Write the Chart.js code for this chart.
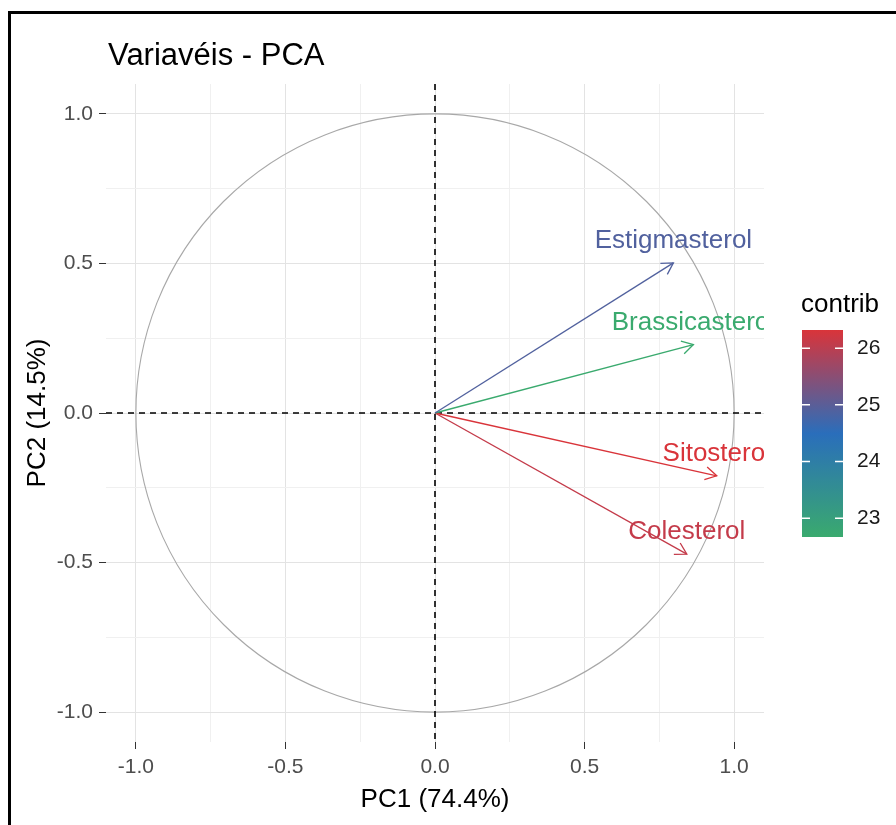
<!DOCTYPE html>
<html>
<head>
<meta charset="utf-8">
<script src="https://cdn.jsdelivr.net/npm/chart.js@4.4.1/dist/chart.umd.min.js"></script>
<style>
  html, body { margin: 0; padding: 0; background: #fff; }
  #wrap { width: 896px; height: 825px; position: relative; }
</style>
</head>
<body>
<div id="wrap"><canvas id="pcaChart" width="896" height="825"></canvas></div>
<script>
// PCA variables: coordinates on PC1 / PC2 and contribution
const variables = ['Estigmasterol', 'Brassicasterol', 'Sitosterol', 'Colesterol'];
const pc1 = [0.797, 0.864, 0.942, 0.842];
const pc2 = [0.502, 0.229, -0.210, -0.472];
const contrib = [24.9, 22.67, 26.32, 26.1];

// axis ticks and legend breaks
const majorTicks = [-1, -0.5, 0, 0.5, 1];
const minorTicks = [-0.75, -0.25, 0.25, 0.75];
const legendTicks = [23, 24, 25, 26];
const gradientCols = ['#3aaa6e', '#2a6ebb', '#d9343a'];

const FONT = "'Liberation Sans', Arial, sans-serif";
const cMin = Math.min(...contrib);
const cMax = Math.max(...contrib);

function isMajor(v) {
  return majorTicks.some(m => Math.abs(m - v) < 1e-9);
}

function hexToRgb(h) {
  const n = parseInt(h.slice(1), 16);
  return [(n >> 16) & 255, (n >> 8) & 255, n & 255];
}

function mix(a, b, t) {
  const A = hexToRgb(a), B = hexToRgb(b);
  const c = A.map((v, i) => Math.round(v + (B[i] - v) * t));
  return 'rgb(' + c.join(',') + ')';
}

function contribColor(v) {
  const t = (v - cMin) / (cMax - cMin);
  if (t <= 0.5) return mix(gradientCols[0], gradientCols[1], t * 2);
  return mix(gradientCols[1], gradientCols[2], (t - 0.5) * 2);
}

const allTicks = majorTicks.concat(minorTicks).sort((a, b) => a - b);

function axisOptions(title, size) {
  return {
    type: 'linear',
    min: -1.1,
    max: 1.1,
    afterBuildTicks: s => { s.ticks = allTicks.map(v => ({ value: v })); },
    afterFit: s => {
      if (s.isHorizontal()) s.height = size; else s.width = size;
    },
    border: { display: false },
    grid: {
      color: c => (c.tick && isMajor(c.tick.value)) ? '#e3e3e3' : '#f0f0f0',
      lineWidth: 1,
      tickLength: 7,
      tickWidth: 1,
      tickColor: c => (c.tick && isMajor(c.tick.value)) ? '#333333' : 'rgba(0,0,0,0)'
    },
    ticks: {
      autoSkip: false,
      maxRotation: 0,
      padding: 6,
      color: '#4d4d4d',
      font: { family: FONT, size: 21 },
      callback: v => isMajor(v) ? v.toFixed(1) : ''
    },
    title: {
      display: true,
      text: title,
      color: '#000',
      font: { family: FONT, size: 26 },
      padding: { top: 0, bottom: 0 }
    }
  };
}

// white page, black frame and chart title
const framePlugin = {
  id: 'frame',
  beforeDraw(chart) {
    const ctx = chart.ctx;
    ctx.save();
    ctx.fillStyle = '#fff';
    ctx.fillRect(0, 0, chart.width, chart.height);
    ctx.strokeStyle = '#000';
    ctx.lineWidth = 3;
    ctx.beginPath();
    ctx.moveTo(9.5, chart.height);
    ctx.lineTo(9.5, 12.5);
    ctx.lineTo(chart.width, 12.5);
    ctx.stroke();
    ctx.fillStyle = '#000';
    ctx.font = '31px ' + FONT;
    ctx.textAlign = 'left';
    ctx.textBaseline = 'alphabetic';
    ctx.fillText('Variavéis - PCA', 108, 65);
    ctx.restore();
  }
};

// correlation circle and dashed zero lines
const guidesPlugin = {
  id: 'guides',
  beforeDatasetsDraw(chart) {
    const { ctx, chartArea: a, scales: { x, y } } = chart;
    const cx = x.getPixelForValue(0), cy = y.getPixelForValue(0);
    const rx = x.getPixelForValue(1) - cx, ry = cy - y.getPixelForValue(1);
    ctx.save();
    ctx.strokeStyle = '#a8a8a8';
    ctx.lineWidth = 1.1;
    ctx.beginPath();
    ctx.ellipse(cx, cy, rx, ry, 0, 0, Math.PI * 2);
    ctx.stroke();
    ctx.strokeStyle = '#000';
    ctx.lineWidth = 1.6;
    ctx.setLineDash([6, 5]);
    ctx.beginPath();
    ctx.moveTo(a.left, cy); ctx.lineTo(a.right, cy);
    ctx.moveTo(cx, a.top); ctx.lineTo(cx, a.bottom);
    ctx.stroke();
    ctx.restore();
  }
};

// open arrow heads and variable names
const arrowPlugin = {
  id: 'arrows',
  afterDatasetsDraw(chart) {
    const { ctx, chartArea: a } = chart;
    ctx.save();
    ctx.beginPath();
    ctx.rect(a.left, a.top, a.right - a.left, a.bottom - a.top);
    ctx.clip();
    chart.data.datasets.forEach((ds, i) => {
      const pts = chart.getDatasetMeta(i).data;
      const o = pts[0], p = pts[1];
      const ang = Math.atan2(p.y - o.y, p.x - o.x);
      const len = 13, spread = Math.PI / 6;
      ctx.strokeStyle = ds.borderColor;
      ctx.lineWidth = 1.3;
      ctx.beginPath();
      ctx.moveTo(p.x - len * Math.cos(ang - spread), p.y - len * Math.sin(ang - spread));
      ctx.lineTo(p.x, p.y);
      ctx.lineTo(p.x - len * Math.cos(ang + spread), p.y - len * Math.sin(ang + spread));
      ctx.stroke();
      ctx.fillStyle = ds.borderColor;
      ctx.font = '26px ' + FONT;
      ctx.textAlign = 'center';
      ctx.textBaseline = 'alphabetic';
      ctx.fillText(ds.label, p.x, p.y - 15);
    });
    ctx.restore();
  }
};

// colour bar legend for contrib
const colorbarPlugin = {
  id: 'colorbar',
  afterDraw(chart) {
    const ctx = chart.ctx;
    const bx = 802, by = 330, bw = 41, bh = 207;
    const yOf = v => by + bh - (v - cMin) / (cMax - cMin) * bh;
    ctx.save();
    ctx.fillStyle = '#000';
    ctx.font = '26px ' + FONT;
    ctx.textAlign = 'left';
    ctx.textBaseline = 'alphabetic';
    ctx.fillText('contrib', 801, 312);
    const g = ctx.createLinearGradient(0, by + bh, 0, by);
    g.addColorStop(0, gradientCols[0]);
    g.addColorStop(0.5, gradientCols[1]);
    g.addColorStop(1, gradientCols[2]);
    ctx.fillStyle = g;
    ctx.fillRect(bx, by, bw, bh);
    ctx.strokeStyle = '#fff';
    ctx.lineWidth = 1.5;
    ctx.fillStyle = '#1a1a1a';
    ctx.font = '21px ' + FONT;
    ctx.textBaseline = 'middle';
    legendTicks.forEach(t => {
      const ty = yOf(t);
      ctx.beginPath();
      ctx.moveTo(bx, ty); ctx.lineTo(bx + 8, ty);
      ctx.moveTo(bx + bw - 8, ty); ctx.lineTo(bx + bw, ty);
      ctx.stroke();
      ctx.fillText(String(t), 857, ty);
    });
    ctx.restore();
  }
};

const datasets = variables.map((name, i) => ({
  type: 'line',
  label: name,
  data: [{ x: 0, y: 0 }, { x: pc1[i], y: pc2[i] }],
  borderColor: contribColor(contrib[i]),
  borderWidth: 1.3,
  pointRadius: 0,
  fill: false
}));

new Chart(document.getElementById('pcaChart').getContext('2d'), {
  type: 'scatter',
  data: { datasets },
  options: {
    responsive: false,
    animation: false,
    events: [],
    layout: { padding: { left: 22, right: 132, top: 84, bottom: 10 } },
    plugins: {
      legend: { display: false },
      tooltip: { enabled: false },
      title: { display: false }
    },
    scales: {
      x: axisOptions('PC1 (74.4%)', 73),
      y: axisOptions('PC2 (14.5%)', 84)
    }
  },
  plugins: [framePlugin, guidesPlugin, arrowPlugin, colorbarPlugin]
});
</script>
</body>
</html>
